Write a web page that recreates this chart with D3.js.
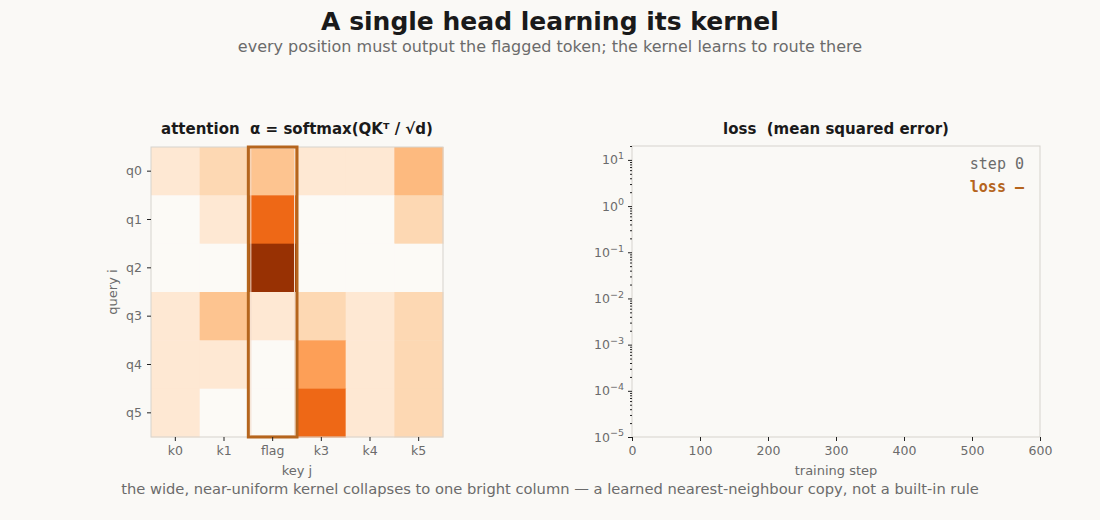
<!DOCTYPE html>
<html>
<head>
<meta charset="utf-8">
<script src="https://cdn.jsdelivr.net/npm/d3@7"></script>
<style>
  body { margin: 0; background: #faf9f6; }
  svg { display: block; font-family: "DejaVu Sans", sans-serif; }
  text { white-space: pre; }
  .tick line { stroke: #222; }
</style>
</head>
<body>
<svg id="chart"></svg>
<script>

// Data
var keys = ["k0", "k1", "flag", "k3", "k4", "k5"];
var queries = ["q0", "q1", "q2", "q3", "q4", "q5"];
// attention weights, one row per query
var attn = [
  [0.10, 0.20, 0.29, 0.10, 0.10, 0.33],
  [0.00, 0.10, 0.63, 0.00, 0.00, 0.20],
  [0.00, 0.00, 0.92, 0.00, 0.00, 0.00],
  [0.10, 0.29, 0.10, 0.20, 0.10, 0.20],
  [0.10, 0.10, 0.00, 0.43, 0.10, 0.20],
  [0.10, 0.00, 0.00, 0.63, 0.10, 0.20]
];
var flagKey = "flag";
var stepTicks = [0, 100, 200, 300, 400, 500, 600];
var lossDomain = [1e-5, 20];
var lossSteps = [];   // nothing trained yet (step 0)
var lossValues = [];
var currentStep = 0;

var W = 1100, H = 520;
var bg = "#faf9f6";
var accent = "#b5651d";
var grey = "#6b6b6b";
var tickFont = 12.5;

var svg = d3.select("#chart").attr("width", W).attr("height", H);
svg.append("rect").attr("width", W).attr("height", H).attr("fill", bg);

// Titles
svg.append("text").attr("x", 550).attr("y", 30).attr("text-anchor", "middle")
  .attr("font-size", 25).attr("font-weight", "bold").attr("fill", "#1a1a1a")
  .text("A single head learning its kernel");
svg.append("text").attr("x", 550).attr("y", 52).attr("text-anchor", "middle")
  .attr("font-size", 16).attr("fill", grey)
  .text("every position must output the flagged token; the kernel learns to route there");
svg.append("text").attr("x", 550).attr("y", 494).attr("text-anchor", "middle")
  .attr("font-size", 14.7).attr("fill", grey)
  .text("the wide, near-uniform kernel collapses to one bright column \u2014 a learned nearest-neighbour copy, not a built-in rule");

function styleAxis(g) {
  g.attr("font-size", tickFont).attr("font-family", "DejaVu Sans, sans-serif");
  g.select(".domain").remove();
  g.selectAll(".tick text").attr("fill", grey);
}

// ---------- Heatmap ----------
var hm = { left: 151, top: 147, width: 292, height: 290 };
var gH = svg.append("g").attr("transform", "translate(" + hm.left + "," + hm.top + ")");

var xBand = d3.scaleBand().domain(keys).range([0, hm.width]);
var yBand = d3.scaleBand().domain(queries).range([0, hm.height]);
var colour = d3.scaleSequential(d3.interpolateOranges).domain([0, 1]);

var cells = [];
attn.forEach(function (row, i) {
  row.forEach(function (v, j) {
    cells.push({ q: queries[i], k: keys[j], v: v });
  });
});

gH.selectAll(".cell")
  .data(cells)
  .enter()
  .append("rect")
  .attr("class", "cell")
  .attr("x", function (d) { return xBand(d.k); })
  .attr("y", function (d) { return yBand(d.q); })
  .attr("width", xBand.bandwidth() + 0.5)
  .attr("height", yBand.bandwidth() + 0.5)
  .attr("fill", function (d) { return d.v < 0.02 ? "#fcfaf6" : colour(d.v); });

gH.append("rect")
  .attr("width", hm.width).attr("height", hm.height)
  .attr("fill", "none").attr("stroke", "#d6d3cd");

// flagged column
gH.append("rect")
  .attr("x", xBand(flagKey) + 2.5).attr("y", 1.5)
  .attr("width", xBand.bandwidth() - 5).attr("height", hm.height - 3)
  .attr("fill", "none").attr("stroke", "#f3dccb").attr("stroke-width", 1);
gH.append("rect")
  .attr("x", xBand(flagKey)).attr("y", 0)
  .attr("width", xBand.bandwidth()).attr("height", hm.height)
  .attr("fill", "none").attr("stroke", accent).attr("stroke-width", 3);

gH.append("g")
  .attr("transform", "translate(0," + hm.height + ")")
  .call(d3.axisBottom(xBand).tickSize(4).tickPadding(5))
  .call(styleAxis);
gH.append("g")
  .call(d3.axisLeft(yBand).tickSize(4).tickPadding(5))
  .call(styleAxis);

gH.append("text").attr("x", hm.width / 2).attr("y", hm.height + 38)
  .attr("text-anchor", "middle").attr("font-size", 13).attr("fill", grey).text("key j");
gH.append("text").attr("transform", "translate(-34," + hm.height / 2 + ") rotate(-90)")
  .attr("text-anchor", "middle").attr("font-size", 13).attr("fill", grey).text("query i");

gH.append("text").attr("x", hm.width / 2).attr("y", -13)
  .attr("text-anchor", "middle").attr("font-size", 15).attr("font-weight", "bold").attr("fill", "#1a1a1a")
  .text("attention  \u03b1 = softmax(QK\u1d40 / \u221ad)");

// ---------- Loss ----------
var lp = { left: 632, top: 146, width: 408, height: 291 };
var gL = svg.append("g").attr("transform", "translate(" + lp.left + "," + lp.top + ")");

var xStep = d3.scaleLinear().domain([stepTicks[0], stepTicks[stepTicks.length - 1]]).range([0, lp.width]);
var yLoss = d3.scaleLog().domain(lossDomain).range([lp.height, 0]);

gL.append("rect")
  .attr("width", lp.width).attr("height", lp.height)
  .attr("fill", "none").attr("stroke", "#d6d3cd");

gL.append("g")
  .attr("transform", "translate(0," + lp.height + ")")
  .call(d3.axisBottom(xStep).tickValues(stepTicks).tickSize(4).tickPadding(5))
  .call(styleAxis);

// log axis: majors at decades, minors elsewhere
var allTicks = yLoss.ticks();
var isMajor = function (t) { return Math.abs(Math.log10(t) - Math.round(Math.log10(t))) < 1e-9; };
var yAxisG = gL.append("g")
  .call(d3.axisLeft(yLoss).tickValues(allTicks).tickFormat("").tickSize(2))
  .call(styleAxis);
yAxisG.selectAll(".tick")
  .filter(function (d) { return isMajor(d); })
  .select("line").attr("x2", -4);
var majorTicks = yAxisG.selectAll(".tick").filter(function (d) { return isMajor(d); });
var lbl = majorTicks.append("text")
  .attr("x", -8).attr("dy", "0.32em").attr("text-anchor", "end")
  .attr("fill", grey).attr("font-size", tickFont);
lbl.append("tspan").text("10");
lbl.append("tspan").attr("dy", "-0.55em").attr("font-size", 9.5)
  .text(function (d) { return String(Math.round(Math.log10(d))).replace("-", "\u2212"); });

gL.append("path")
  .datum(lossSteps.map(function (s, i) { return [s, lossValues[i]]; }))
  .attr("fill", "none").attr("stroke", accent).attr("stroke-width", 2)
  .attr("d", d3.line().x(function (d) { return xStep(d[0]); }).y(function (d) { return yLoss(d[1]); }));

gL.append("text").attr("x", lp.width / 2).attr("y", lp.height + 38)
  .attr("text-anchor", "middle").attr("font-size", 13).attr("fill", grey).text("training step");

gL.append("text").attr("x", lp.width / 2).attr("y", -12)
  .attr("text-anchor", "middle").attr("font-size", 15).attr("font-weight", "bold").attr("fill", "#1a1a1a")
  .text("loss  (mean squared error)");

var lastLoss = lossValues.length ? lossValues[lossValues.length - 1].toExponential(2) : "\u2014";
gL.append("text").attr("x", lp.width - 16).attr("y", 23)
  .attr("text-anchor", "end").attr("font-family", "DejaVu Sans Mono, monospace")
  .attr("font-size", 15).attr("fill", grey).text("step " + currentStep);
gL.append("text").attr("x", lp.width - 16).attr("y", 46)
  .attr("text-anchor", "end").attr("font-family", "DejaVu Sans Mono, monospace")
  .attr("font-size", 15).attr("font-weight", "bold").attr("fill", accent).text("loss " + lastLoss);

</script>
</body>
</html>
